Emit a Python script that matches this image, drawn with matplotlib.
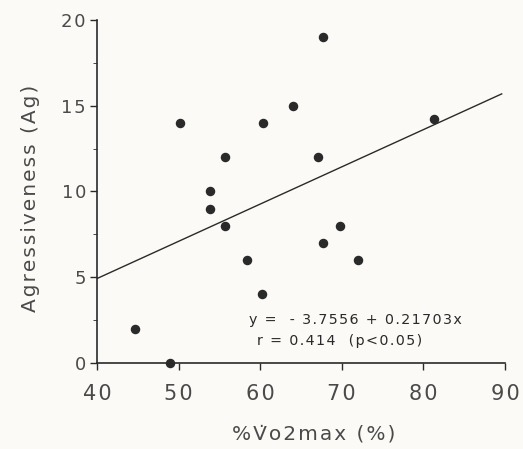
import numpy as np
import matplotlib.pyplot as plt

vo2max = [44.7, 48.9, 50.2, 53.8, 53.8, 55.7, 55.7, 58.4, 60.3, 60.2,
          64.0, 67.1, 67.7, 67.7, 69.8, 72.0, 81.3]
aggressiveness = [2, 0, 14, 10, 9, 12, 8, 6, 14, 4,
                  15, 12, 19, 7, 8, 6, 14.2]

intercept = -3.7556
slope = 0.21703
fit_x = [40, 89.6]

x_ticks = [40, 50, 60, 70, 80, 90]
y_ticks = [0, 5, 10, 15, 20]

x_label = '%V\u0307o2max (%)'
y_label = 'Agressiveness (Ag)'
fit_text = 'y =  - 3.7556 + 0.21703x'
r_text = 'r = 0.414  (p<0.05)'


def spaced(s):
    # the scan uses a wide, letter-spaced font; fake it with hair spaces
    out = ''
    for ch in s:
        if out and not ('\u0300' <= ch <= '\u036f'):
            out += '\u200a'
        out += ch
    return out


def main():
    ink = '#2a2a2a'
    grey = '#4a4a4a'
    fig = plt.figure(figsize=(5.23, 4.49), dpi=100)
    fig.patch.set_facecolor('#fbfaf6')
    ax = fig.add_axes([0.1855, 0.1915, 0.780, 0.764])
    ax.set_facecolor('#fbfaf6')

    fx = np.array(fit_x)
    ax.plot(fx, intercept + slope * fx, color=ink, lw=1.0)
    ax.scatter(vo2max, aggressiveness, s=34, color=ink, zorder=3, clip_on=False)

    ax.set_xlim(40, 90)
    ax.set_ylim(0, 20)
    ax.set_xticks(x_ticks)
    ax.set_xticklabels([spaced(str(t)) for t in x_ticks], fontsize=15)
    ax.set_yticks(y_ticks)
    ax.set_yticklabels([spaced(str(t)) for t in y_ticks], fontsize=13)
    ax.set_yticks(np.arange(2.5, 20, 5), minor=True)

    for side in ['top', 'right']:
        ax.spines[side].set_visible(False)
    for side in ['left', 'bottom']:
        ax.spines[side].set_color(ink)
        ax.spines[side].set_linewidth(1.2)

    ax.tick_params(axis='both', colors=ink, labelcolor=grey,
                   width=1.0, length=5, direction='out')
    ax.tick_params(axis='y', which='minor', length=3, colors=ink)
    ax.tick_params(axis='x', pad=10)
    ax.tick_params(axis='y', pad=3)

    ax.set_xlabel(spaced(x_label), fontsize=14.5, color=grey)
    ax.xaxis.set_label_coords(0.53, -0.18)
    ax.set_ylabel(spaced(y_label), fontsize=14.5, color=grey)
    ax.yaxis.set_label_coords(-0.14, 0.48)

    ax.text(58.6, 2.5, spaced(fit_text), fontsize=10.3, color=ink, va='center')
    ax.text(59.6, 1.3, spaced(r_text), fontsize=10.3, color=ink, va='center')

    fig.savefig('out.png', dpi=100, facecolor=fig.get_facecolor())


if __name__ == '__main__':
    main()
